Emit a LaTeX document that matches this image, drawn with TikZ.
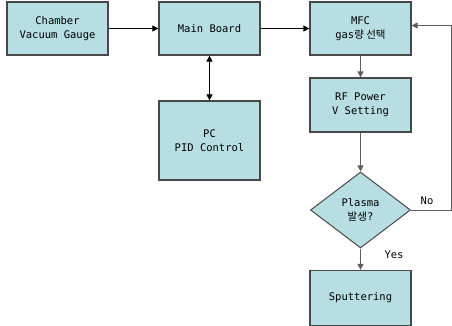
\documentclass[tikz,border=0pt]{standalone}
\usepackage{fontspec}
\setmainfont{DejaVu Sans Mono}
\newfontfamily\krfont{Noto Sans CJK KR}
\usetikzlibrary{shapes.geometric,arrows.meta}
\definecolor{boxfill}{RGB}{183,222,226}
\definecolor{boxline}{RGB}{72,72,72}
\definecolor{flowgray}{RGB}{95,95,95}

\begin{document}
\begin{tikzpicture}[x=1pt,y=-1pt,
  blk/.style={draw=boxline,fill=boxfill,line width=1.2pt,minimum width=101pt,
    minimum height=53pt,align=center,font=\fontsize{10.5}{14}\selectfont},
  dec/.style={diamond,draw=boxline,fill=boxfill,line width=1pt,minimum width=100pt,
    minimum height=76pt,inner sep=0pt,align=center,font=\fontsize{10.5}{14}\selectfont},
  arr/.style={-{Triangle[length=6pt,width=6pt]},line width=0.9pt},
  lbl/.style={font=\fontsize{10.5}{12}\selectfont}]
  \useasboundingbox (0,0) rectangle (452,326);
  % left column
  \node[blk] (cvg) at (57.5,28.5) {Chamber\\Vacuum Gauge};
  \node[blk] (mb) at (209.5,28.5) {Main Board};
  \node[blk,minimum height=79pt] (pc) at (209.5,140.5) {PC\\PID Control};
  % right column
  \node[blk] (mfc) at (360.5,28.5) {MFC\\gas{\krfont 량 선택}};
  \node[blk,minimum height=54pt] (rf) at (360.5,105) {RF Power\\V Setting};
  \node[dec] (plasma) at (360.5,210) {Plasma\\{\krfont 발생}?};
  \node[blk,minimum height=55pt] (sput) at (360.5,298) {Sputtering};
  \node[lbl] (no) at (427,201) {No};
  \node[lbl] (yes) at (394,255) {Yes};
  \coordinate (turn) at (451,210);
  % connectors
  \draw[arr] (cvg) -- (mb);
  \draw[arr] (mb) -- (mfc);
  \draw[{Triangle[length=6pt,width=6pt]}-{Triangle[length=6pt,width=6pt]},line width=0.9pt] (mb) -- (pc);
  \draw[arr,flowgray] (mfc) -- (rf);
  \draw[arr,flowgray] (rf) -- (plasma);
  \draw[arr,flowgray] (plasma) -- (sput);
  \draw[arr,flowgray] (plasma.east) -- (turn) |- ([yshift=3pt]mfc.east);
\end{tikzpicture}
\end{document}
